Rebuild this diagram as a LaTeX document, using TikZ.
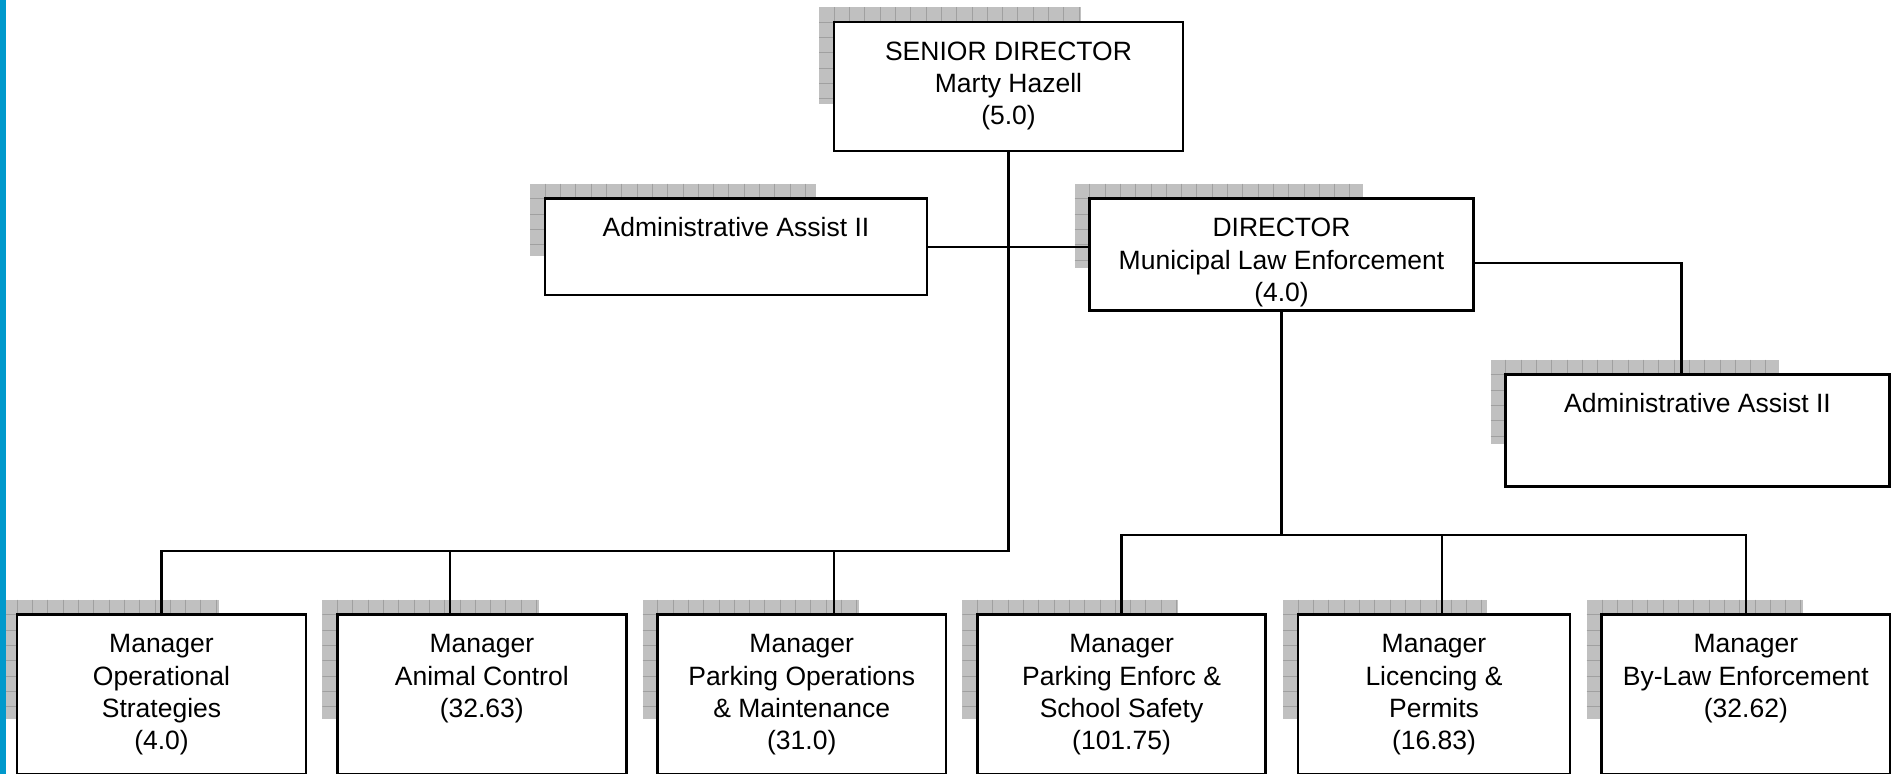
\documentclass[tikz,border=0pt]{standalone}
\usepackage{fontspec}
\setmainfont{Liberation Sans}
\usetikzlibrary{backgrounds}
\definecolor{barblue}{RGB}{0,153,204}
\definecolor{shfill}{RGB}{192,192,192}
\definecolor{shline}{RGB}{160,160,160}
\newdimen\upx \upx=0.4pt
\newcommand\boxtext[3]{\parbox[c][#2\upx][t]{#1\upx}{\centering\rule{0pt}{15.3pt}#3}}
\newcommand\gridshadow[4]{%
  \fill[shfill] (#1,#2) rectangle ++(#3,#4);
  \begin{scope}
    \clip (#1,#2) rectangle ++(#3,#4);
    \foreach \k in {1,...,20} {
      \draw[shline] ({#1+15.3*\k},#2) -- ++(0,#4);
      \draw[shline] (#1,{#2+15.3*\k}) -- ++(#3,0);
    }
  \end{scope}}
\tikzset{
  orgbox/.style={draw, fill=white, line width=1.1pt, inner sep=0pt, outer sep=0pt,
    anchor=north west, font=\fontsize{10.6}{12.9}\selectfont},
  conn/.style={line width=0.9pt},
  shline/.style={draw=shline, line width=0.4pt}
}
\begin{document}
\begin{tikzpicture}[x=0.4pt,y=-0.4pt]
\useasboundingbox (0,0) rectangle (1896,774);
% boxes
\node[orgbox] (sen) at (834,22) {\boxtext{349}{129}{SENIOR DIRECTOR\\Marty Hazell\\(5.0)}};
\node[orgbox] (adL) at (545,198.5) {\boxtext{382}{96.5}{Administrative Assist II}};
\node[orgbox] (dir) at (1089.5,198.5) {\boxtext{384}{112}{DIRECTOR\\Municipal Law Enforcement\\(4.0)}};
\node[orgbox] (adR) at (1505.5,374.5) {\boxtext{384}{112}{Administrative Assist II}};
\node[orgbox] (m1) at (17,614.5) {\boxtext{289}{160}{Manager\\Operational\\Strategies\\(4.0)}};
\node[orgbox] (m2) at (337.3,614.5) {\boxtext{289}{160}{Manager\\Animal Control\\(32.63)}};
\node[orgbox] (m3) at (657.5,614.5) {\boxtext{288.5}{160}{Manager\\Parking Operations\\\& Maintenance\\(31.0)}};
\node[orgbox] (m4) at (977.3,614.5) {\boxtext{288.5}{160}{Manager\\Parking Enforc \&\\School Safety\\(101.75)}};
\node[orgbox] (m5) at (1298,614.5) {\boxtext{272}{160}{Manager\\Licencing \&\\Permits\\(16.83)}};
\node[orgbox] (m6) at (1601.7,614.5) {\boxtext{288.3}{160}{Manager\\By-Law Enforcement\\(32.62)}};
% shadows
\begin{scope}[on background layer]
  \fill[white] (0,0) rectangle (1896,774);
  \gridshadow{819}{7}{262}{97}
  \gridshadow{530}{183.5}{286}{72}
  \gridshadow{1074.5}{183.5}{288}{84}
  \gridshadow{1490.5}{359.5}{288}{84}
  \gridshadow{2}{599.5}{217}{119}
  \gridshadow{322.3}{599.5}{217}{119}
  \gridshadow{642.5}{599.5}{216}{119}
  \gridshadow{962.3}{599.5}{216}{119}
  \gridshadow{1283}{599.5}{204}{119}
  \gridshadow{1586.7}{599.5}{216}{119}
\end{scope}
% connector points
\path (sen.south) ++(0,400) coordinate (j1);
\path (dir.south) ++(0,224.2) coordinate (j2);
\coordinate (m2in) at ([xshift=-31.8\upx]m2.north);
\coordinate (m3in) at ([xshift=32.5\upx]m3.north);
\coordinate (m5in) at ([xshift=8\upx]m5.north);
\coordinate (dirR) at ([yshift=-8.2\upx]dir.east);
\coordinate (adRin) at ([xshift=-16\upx]adR.north);
% connectors
\draw[conn] (sen.south) -- (j1) -- (m1.north |- j1) -- (m1.north);
\draw[conn] (m2in) -- (m2in |- j1);
\draw[conn] (m3in) -- (m3in |- j1);
\draw[conn] (adL.east) -- (adL.east -| dir.west);
\draw[conn] (dirR) -| (adRin);
\draw[conn] (dir.south) -- (j2);
\draw[conn] (m4.north) -- (m4.north |- j2) -- (m6.north |- j2) -- (m6.north);
\draw[conn] (m5in) -- (m5in |- j2);
% left bar
\fill[barblue] (0,0) rectangle (6,774);
\end{tikzpicture}
\end{document}
